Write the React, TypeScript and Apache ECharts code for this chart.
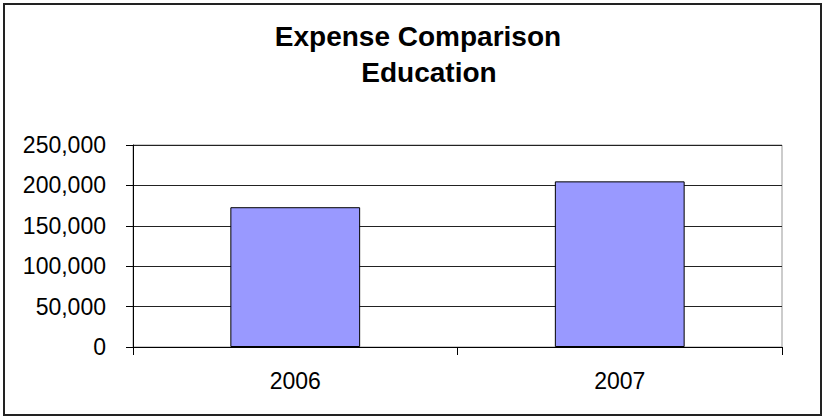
import React, { useEffect, useRef } from "react";
import * as echarts from "echarts";

const categories = ["2006", "2007"];
const expenseValues = [173000, 205000];
const titleLines = ["Expense Comparison", "Education"];
const yMin = 0;
const yMax = 250000;
const yInterval = 50000;

const FONT = "'Liberation Sans', Arial, sans-serif";

export default function App() {
  const ref = useRef<HTMLDivElement>(null);
  useEffect(() => {
    if (!ref.current) return;
    const chart = echarts.init(ref.current, undefined, { renderer: "svg" });
    chart.setOption({
      animation: false,
      backgroundColor: "#ffffff",
      textStyle: { fontFamily: FONT },
      graphic: [
        {
          type: "rect",
          shape: { x: 4, y: 4, width: 817, height: 411 },
          style: { fill: "none", stroke: "#222", lineWidth: 2 },
          z: 0,
        },
        {
          type: "text",
          x: 418,
          y: 22,
          style: {
            text: titleLines[0],
            font: `bold 28px ${FONT}`,
            fill: "#000",
            textAlign: "center",
            textVerticalAlign: "top",
          },
        },
        {
          type: "text",
          x: 429,
          y: 58,
          style: {
            text: titleLines[1],
            font: `bold 28px ${FONT}`,
            fill: "#000",
            textAlign: "center",
            textVerticalAlign: "top",
          },
        },
      ],
      grid: {
        left: 133,
        right: 43,
        top: 145,
        bottom: 72,
        show: true,
        borderColor: "#999",
        borderWidth: 1,
        backgroundColor: "#fff",
      },
      xAxis: {
        type: "category",
        data: categories,
        boundaryGap: true,
        axisLine: { show: true, lineStyle: { color: "#000", width: 1 } },
        axisTick: { show: true, length: 8, lineStyle: { color: "#000" } },
        axisLabel: { fontSize: 23, color: "#000", margin: 22, fontFamily: FONT },
        splitLine: { show: false },
      },
      yAxis: {
        type: "value",
        min: yMin,
        max: yMax,
        interval: yInterval,
        axisLine: { show: true, lineStyle: { color: "#000", width: 1 } },
        axisTick: { show: true, length: 7, lineStyle: { color: "#000" } },
        axisLabel: {
          fontSize: 23,
          color: "#000",
          margin: 27,
          fontFamily: FONT,
          formatter: (v: number) => v.toLocaleString("en-US"),
        },
        splitLine: { show: true, lineStyle: { color: "#222", width: 1 } },
      },
      series: [
        {
          type: "bar",
          data: expenseValues,
          barWidth: "40%",
          itemStyle: { color: "#9999ff", borderColor: "#000", borderWidth: 1 },
        },
      ],
    });
    return () => chart.dispose();
  }, []);
  return (
    <div
      ref={ref}
      style={{ position: "absolute", left: 0, top: 0, width: 825, height: 419 }}
    />
  );
}
